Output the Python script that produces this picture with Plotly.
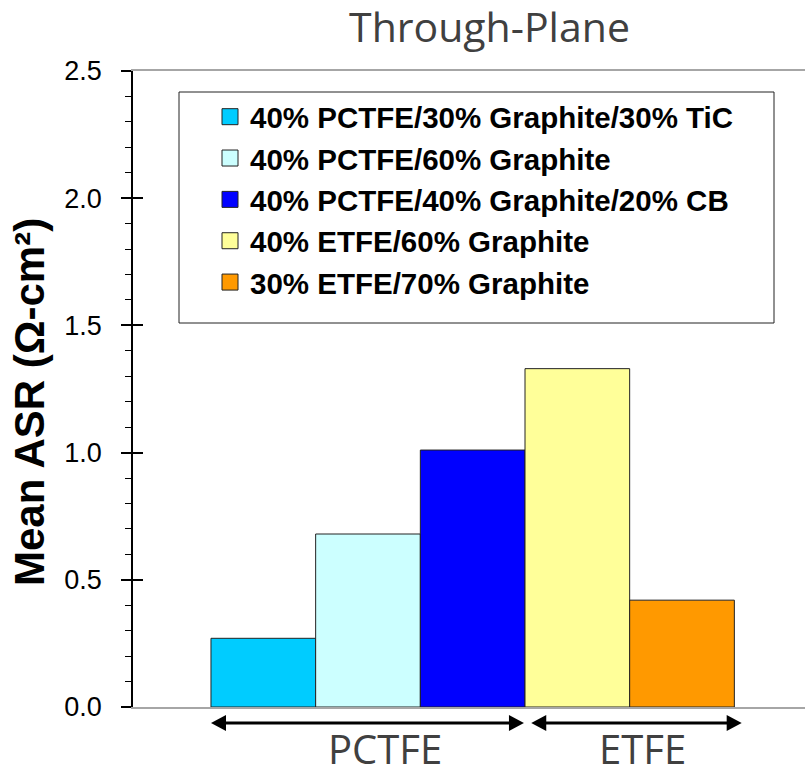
import plotly.graph_objects as go

# ---- data ----
series_names = [
    "40% PCTFE/30% Graphite/30% TiC",
    "40% PCTFE/60% Graphite",
    "40% PCTFE/40% Graphite/20% CB",
    "40% ETFE/60% Graphite",
    "30% ETFE/70% Graphite",
]
series_values = [0.27, 0.68, 1.01, 1.33, 0.42]
series_colors = ["#00CCFF", "#CCFFFF", "#0000FF", "#FFFF99", "#FF9900"]
group_labels = ["PCTFE", "ETFE"]
group_spans = [(-0.5, 2.49), (2.56, 4.57)]      # arrow extents in bar-index units
group_label_x = [1.165, 3.62]
y_ticks = [0.0, 0.5, 1.0, 1.5, 2.0, 2.5]
y_title = "Mean ASR (Ω-cm²)"

W, H = 805, 768
L, R, T, B = 133, 0, 71, 61
ph = H - T - B
pw = W - L - R

fig = go.Figure()
for i, (n, v, c) in enumerate(zip(series_names, series_values, series_colors)):
    fig.add_trace(go.Bar(x=[i], y=[v], width=1, marker=dict(color=c, line=dict(color="#222222", width=1)),
                         name=n, showlegend=False, hoverinfo="skip"))
for i, (n, c) in enumerate(zip(series_names, series_colors)):
    fig.add_trace(go.Scatter(x=[None], y=[None], mode="markers", name=n, legendgroup=f"g{i}",
                             marker=dict(symbol="square", size=16, color=c, line=dict(color="#222222", width=1))))
fig.add_trace(go.Scatter(x=[None], y=[None], yaxis="y2", showlegend=False, hoverinfo="skip"))

shapes = []
ay = (0 - 16) / ph  # paper y of arrows (16 px below baseline)
hx = 15 / 104.7
hy = 8 / ph
for (a, b) in group_spans:
    shapes.append(dict(type="line", xref="x", yref="paper", x0=a + hx * 0.5, x1=b - hx * 0.5, y0=ay, y1=ay,
                       line=dict(color="black", width=3)))
    shapes.append(dict(type="path", xref="x", yref="paper", fillcolor="black", line=dict(width=0),
                       path=f"M{a},{ay} L{a + hx},{ay + hy} L{a + hx},{ay - hy} Z"))
    shapes.append(dict(type="path", xref="x", yref="paper", fillcolor="black", line=dict(width=0),
                       path=f"M{b},{ay} L{b - hx},{ay + hy} L{b - hx},{ay - hy} Z"))
# legend box
shapes.append(dict(type="rect", xref="paper", yref="paper",
                   x0=(179 - L) / pw, x1=(774 - L) / pw,
                   y0=(707 - 323) / ph, y1=(707 - 92) / ph,
                   line=dict(color="#222222", width=1), fillcolor="rgba(0,0,0,0)", layer="below"))

annotations = []
for lab, gx in zip(group_labels, group_label_x):
    annotations.append(dict(text=lab, x=gx, xref="x", y=(0 - 12) / ph, yref="paper", yanchor="top",
                            showarrow=False, font=dict(family="Open Sans", size=40, color="#404040")))
annotations.append(dict(text=y_title, textangle=-90, x=(30 - L) / pw, xref="paper", xanchor="center",
                        y=(707 - 402) / ph, yref="paper", yanchor="middle", showarrow=False,
                        font=dict(family="Liberation Sans, Arial", size=42, color="black", weight="bold")))

fig.update_layout(
    width=W, height=H,
    margin=dict(l=L, r=R, t=T, b=B),
    paper_bgcolor="white", plot_bgcolor="white",
    barmode="overlay",
    title=dict(text="Through-Plane", x=489.5 / W, xref="container", xanchor="center",
               y=1 - 27.5 / H, yref="container", yanchor="middle",
               font=dict(family="Open Sans", size=41, color="#404040")),
    xaxis=dict(range=[-1.245, 5.175], showticklabels=False, ticks="", showgrid=False, zeroline=False,
               showline=True, linecolor="#a6a6a6", linewidth=1.5, mirror=True, fixedrange=True),
    yaxis=dict(range=[0, 2.5], tickvals=y_ticks, tickformat=".1f", ticks="outside", ticklen=10,
               tickwidth=1.5, tickcolor="black", showline=True, linecolor="black", linewidth=1.5,
               showgrid=False, zeroline=False, ticklabelstandoff=14,
               tickfont=dict(family="Liberation Sans, Arial", size=27, color="black"),
               minor=dict(dtick=0.1, ticks="outside", ticklen=6, tickwidth=1, tickcolor="black")),
    yaxis2=dict(range=[0, 2.5], overlaying="y", anchor="x", side="left", tickvals=y_ticks,
                ticks="inside", ticklen=10, tickwidth=1.5, tickcolor="black", showticklabels=False,
                showline=False, showgrid=False, zeroline=False),
    legend=dict(x=(210 - L) / pw, y=(707 - 91) / ph, xanchor="left", yanchor="top",
                bgcolor="rgba(0,0,0,0)", borderwidth=0, tracegroupgap=0,
                font=dict(family="Liberation Sans, Arial", size=29.5, color="black", weight="bold")),
    shapes=shapes,
    annotations=annotations,
)
fig.write_html("out.html")
